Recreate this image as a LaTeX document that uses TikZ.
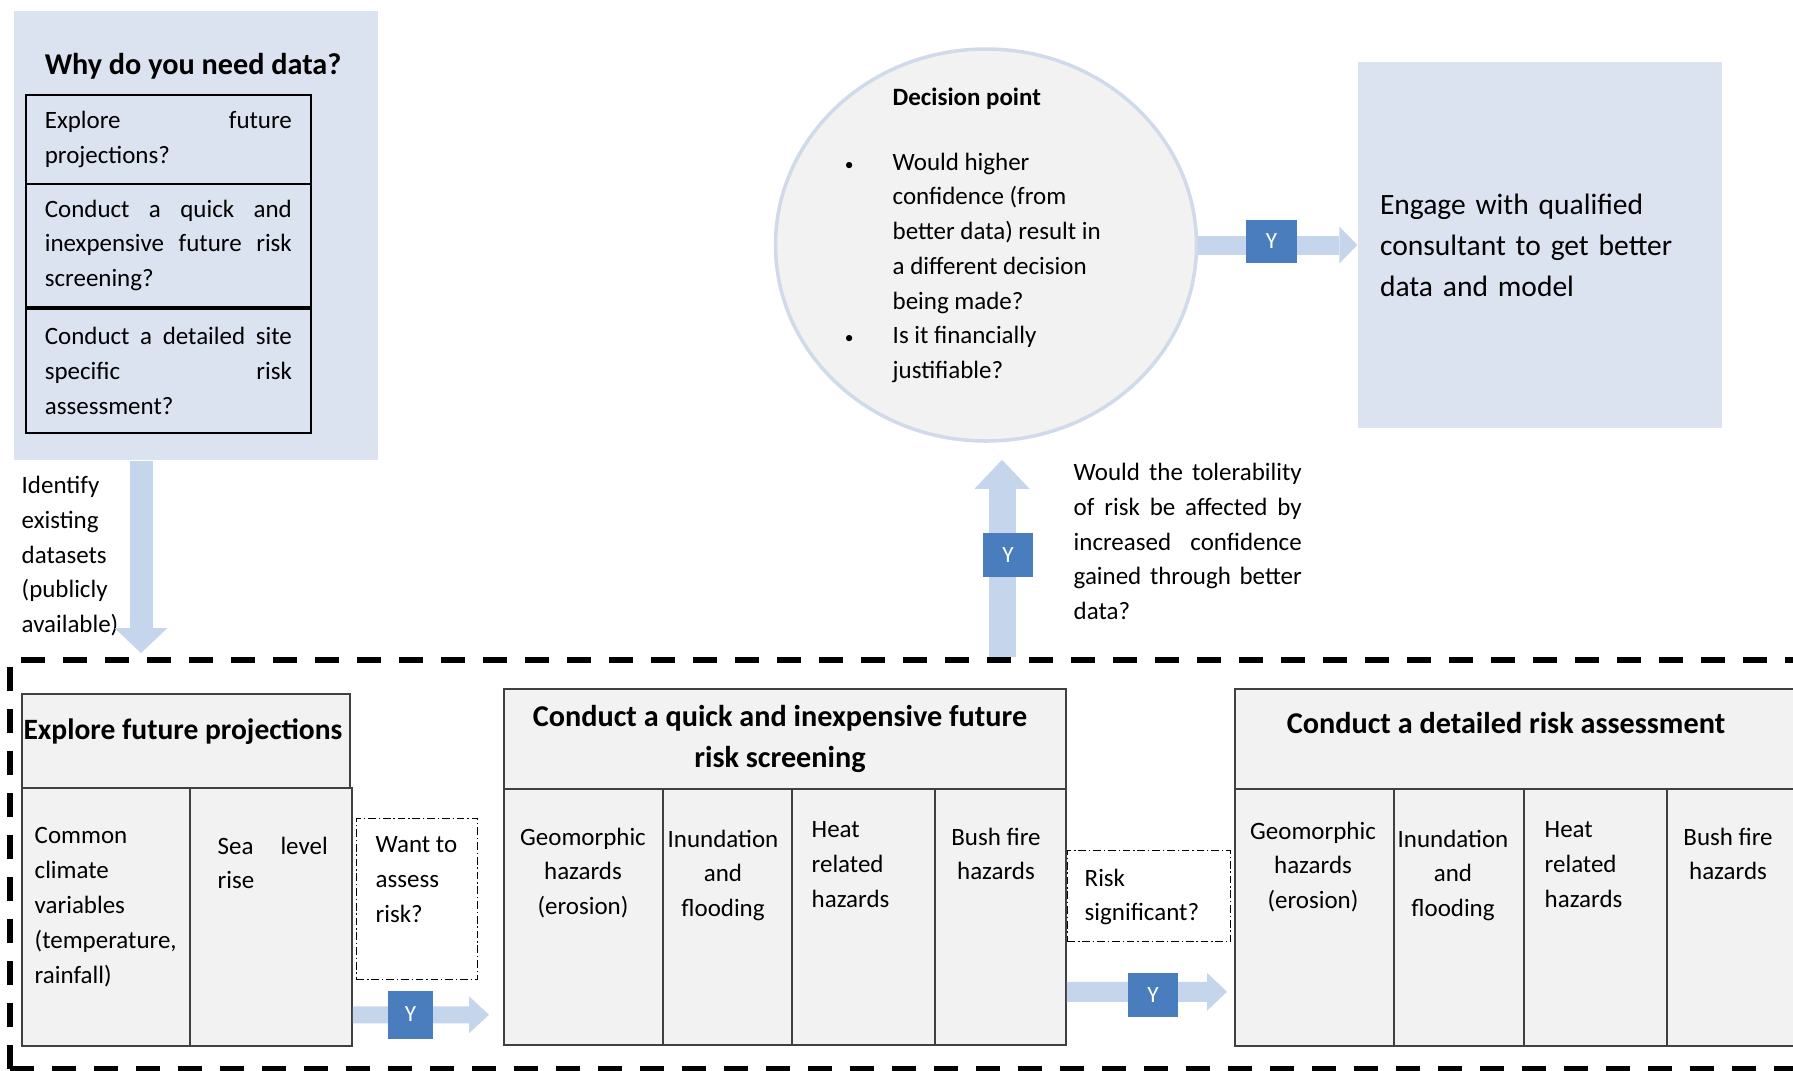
\documentclass[tikz,border=0pt]{standalone}
\usepackage{fontspec}
\setmainfont{Carlito}
\usetikzlibrary{arrows.meta,shapes.geometric}

\definecolor{panelblue}{RGB}{219,227,240}
\definecolor{arrowblue}{RGB}{197,213,236}
\definecolor{yblue}{RGB}{74,125,189}
\definecolor{cellgray}{RGB}{242,242,242}
\definecolor{rimblue}{RGB}{208,218,234}
\definecolor{edgegray}{RGB}{64,64,64}

\def\bodysize{\fontsize{7.1}{9.9}\selectfont}
\def\ttlsize{\fontsize{8.6}{11.7}\selectfont\bfseries}
\def\engsize{\fontsize{8.4}{11.7}\selectfont}
\def\bul{\llap{{\fontsize{5}{5}\selectfont\textbullet}\hspace{0.39cm}}}
\tolerance=10000
\hbadness=10000

\tikzset{
	panel/.style={fill=panelblue, inner sep=0pt},
	qbox/.style={draw=black, line width=0.5pt, anchor=north west, minimum width=2.85cm, text width=2.47cm, align=justify, inner sep=0pt, font=\bodysize},
	cellbox/.style={draw=edgegray, line width=0.5pt, fill=cellgray, anchor=north west, inner sep=0pt},
	query/.style={draw=black, line width=0.4pt, dash pattern=on 2.2pt off 0.8pt on 0.4pt off 0.8pt, anchor=north west, inner sep=0pt},
	txt/.style={inner sep=0pt, font=\bodysize, align=left, anchor=north west},
	ctxt/.style={inner sep=0pt, font=\bodysize, align=center, anchor=north},
	ttl/.style={inner sep=0pt, font=\ttlsize, align=center},
	decision/.style={ellipse, draw=rimblue, line width=1pt, fill=cellgray, minimum width=4.21cm, minimum height=3.92cm, inner sep=0pt},
	ybox/.style={fill=yblue, text=white, inner sep=0pt, font=\fontsize{6.6}{7}\selectfont},
	fatarrow/.style n args={3}{draw=arrowblue, line width=#1, -{Triangle[width=#2,length=#3,line width=0pt]}},
	frameline/.style={line width=1.7pt, dash pattern=on 0.24cm off 0.18cm},
}

\begin{document}
\begin{tikzpicture}
		%%%%% START %%%%%
		\useasboundingbox (0,0) rectangle (17.93,-10.70);
		
		% why do you need data
		\node[panel, minimum width=3.64cm, minimum height=4.49cm] (why) at (1.96,-2.355) {};
		\node[ttl] (whyttl) at (1.93,-0.66) {Why do you need data?};
		\node[qbox, minimum height=0.89cm] (q1) at (0.25,-0.94) {Explore future\linebreak projections?};
		\node[qbox, minimum height=1.23cm] (q2) at (0.25,-1.83) {Conduct a quick and\linebreak inexpensive future risk\linebreak screening?};
		\node[qbox, minimum height=1.24cm] (q3) at (0.25,-3.08) {Conduct a detailed site\linebreak specific risk\linebreak assessment?};
		\node[txt] (ident) at (0.21,-4.755) {Identify\\existing\\datasets\\(publicly\\available)};
		
		% decision point and consultant
		\node[decision] (dec) at (9.86,-2.45) {};
		\node[txt] (dectxt) at (8.92,-0.87) {{\bfseries Decision point}\\[0.30cm]
			\bul Would higher\\confidence (from\\better data) result in\\a different decision\\being made?\\
			\bul Is it financially\\justifiable?};
		\node[panel, minimum width=3.64cm, minimum height=3.66cm, text width=3.20cm, align=left, font=\engsize] (eng) at (15.40,-2.45) {Engage with qualified\\consultant to get better\\data and model};
		\node[txt, text width=2.28cm, align=justify] (tol) at (10.73,-4.625) {Would the tolerability\linebreak of risk be affected by\linebreak increased confidence\linebreak gained through better\linebreak data?};
		
		% explore future projections
		\node[cellbox, minimum width=3.28cm, minimum height=0.94cm] (efp) at (0.21,-6.93) {};
		\node[ttl, font=\fontsize{8.4}{11}\selectfont\bfseries] (efpttl) at (1.83,-7.32) {Explore future projections};
		\node[cellbox, minimum width=1.68cm, minimum height=2.58cm] (ccv) at (0.21,-7.87) {};
		\node[cellbox, minimum width=1.62cm, minimum height=2.58cm] (slr) at (1.89,-7.87) {};
		\node[txt] (ccvtxt) at (0.34,-8.27) {Common\\climate\\variables\\(temperature,\\rainfall)};
		\node[txt, text width=1.10cm, align=justify] (slrtxt) at (2.17,-8.36) {Sea level\linebreak rise};
		\node[query, minimum width=1.21cm, minimum height=1.61cm] (want) at (3.56,-8.18) {};
		\node[txt] (wanttxt) at (3.75,-8.36) {Want to\\assess\\risk?};
		
		% quick screening
		\node[cellbox, minimum width=5.62cm, minimum height=1.00cm] (qrs) at (5.03,-6.88) {};
		\node[ttl] (qrsttl) at (7.80,-7.385) {Conduct a quick and inexpensive future\\risk screening};
		\node[cellbox, minimum width=1.59cm, minimum height=2.56cm] (geoA) at (5.03,-7.88) {};
		\node[cellbox, minimum width=1.29cm, minimum height=2.56cm] (inuA) at (6.62,-7.88) {};
		\node[cellbox, minimum width=1.43cm, minimum height=2.56cm] (heatA) at (7.91,-7.88) {};
		\node[cellbox, minimum width=1.31cm, minimum height=2.56cm] (bushA) at (9.34,-7.88) {};
		\node[ctxt] (geoAtxt) at (5.83,-8.27) {Geomorphic\\hazards\\(erosion)};
		\node[ctxt] (inuAtxt) at (7.23,-8.29) {Inundation\\and\\flooding};
		\node[txt] (heatAtxt) at (8.11,-8.21) {Heat\\related\\hazards};
		\node[ctxt] (bushAtxt) at (9.96,-8.27) {Bush fire\\hazards};
		\node[query, minimum width=1.63cm, minimum height=0.91cm] (risk) at (10.67,-8.50) {};
		\node[txt] (risktxt) at (10.84,-8.68) {Risk\\significant?};
		
		% detailed assessment
		\node[cellbox, minimum width=6.00cm, minimum height=1.00cm] (dra) at (12.34,-6.88) {};
		\node[ttl] (drattl) at (15.06,-7.23) {Conduct a detailed risk assessment};
		\node[cellbox, minimum width=1.59cm, minimum height=2.57cm] (geoB) at (12.34,-7.88) {};
		\node[cellbox, minimum width=1.30cm, minimum height=2.57cm] (inuB) at (13.93,-7.88) {};
		\node[cellbox, minimum width=1.43cm, minimum height=2.57cm] (heatB) at (15.23,-7.88) {};
		\node[cellbox, minimum width=1.60cm, minimum height=2.57cm] (bushB) at (16.66,-7.88) {};
		\node[ctxt] (geoBtxt) at (13.13,-8.21) {Geomorphic\\hazards\\(erosion)};
		\node[ctxt] (inuBtxt) at (14.53,-8.29) {Inundation\\and\\flooding};
		\node[txt] (heatBtxt) at (15.44,-8.21) {Heat\\related\\hazards};
		\node[ctxt] (bushBtxt) at (17.28,-8.27) {Bush fire\\hazards};
		
		% arrows
		\coordinate (dtip) at (1.41,-6.53);
		\coordinate (ubot) at (10.02,-6.57);
		\draw[fatarrow={0.23cm}{0.53cm}{0.25cm}] (why.south -| dtip) -- (dtip);
		\draw[fatarrow={0.27cm}{0.55cm}{0.29cm}, shorten >=0.17cm] (ubot) -- (dec.south -| ubot);
		\draw[fatarrow={0.19cm}{0.37cm}{0.18cm}] (dec.east) -- (eng.west);
		\draw[fatarrow={0.17cm}{0.37cm}{0.20cm}] ([yshift=0.32cm]slr.south east) -- ([xshift=-0.14cm,yshift=0.31cm]geoA.south west);
		\draw[fatarrow={0.20cm}{0.38cm}{0.20cm}] ([yshift=0.54cm]bushA.south east) -- ([xshift=-0.07cm,yshift=0.55cm]geoB.south west);
		
		\node[ybox, minimum width=0.45cm, minimum height=0.48cm] (y1) at (4.105,-10.145) {Y};
		\node[ybox, minimum width=0.50cm, minimum height=0.44cm] (y2) at (11.53,-9.95) {Y};
		\node[ybox, minimum width=0.50cm, minimum height=0.44cm] (y3) at (10.08,-5.55) {Y};
		\node[ybox, minimum width=0.51cm, minimum height=0.43cm] (y4) at (12.715,-2.415) {Y};
		
		% dashed frame
		\draw[frameline] (0.10,-10.69) -- (0.10,-6.60) -- (18.2,-6.60);
		\draw[frameline] (0.10,-10.69) -- (18.2,-10.69);
		%%%%% END %%%%%
	\end{tikzpicture}
\end{document}
